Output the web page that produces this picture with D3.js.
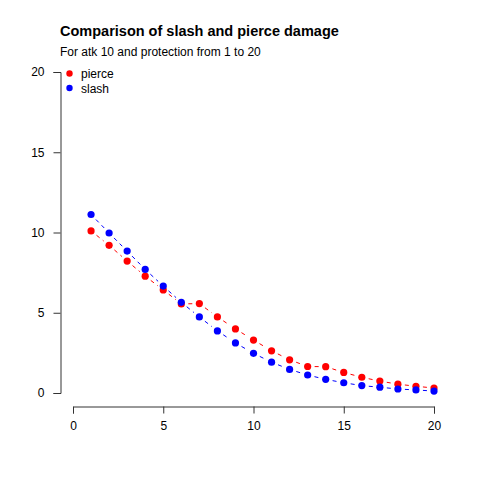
<!DOCTYPE html>
<html><head><meta charset="utf-8">
<script src="https://cdn.jsdelivr.net/npm/d3@7"></script>
<style>body{margin:0;background:#fff}text{font-family:"Liberation Sans",Arial,sans-serif}</style>
</head><body>
<svg id="c" width="480" height="480"></svg>
<script>
const protection = d3.range(1, 21);
const pierce = [10.1,9.2,8.22,7.28,6.42,5.55,5.57,4.74,3.99,3.3,2.63,2.07,1.65,1.64,1.28,0.98,0.74,0.55,0.42,0.31];
const slash = [11.12,9.97,8.84,7.7,6.66,5.65,4.74,3.87,3.12,2.47,1.92,1.47,1.12,0.85,0.64,0.46,0.36,0.25,0.19,0.12];
const xTicks = [0,5,10,15,20];
const yTicks = [0,5,10,15,20];
const seriesNames = ["pierce","slash"];
const seriesColors = ["#ff0000","#0000ff"];
const title = "Comparison of slash and pierce damage";
const subtitle = "For atk 10 and protection from 1 to 20";

const svg = d3.select("#c");
svg.append("rect").attr("width",480).attr("height",480).attr("fill","#fff");
const x = d3.scaleLinear().domain([0,20]).range([73,434]);
const y = d3.scaleLinear().domain([0,20]).range([393,72]);

const gx = svg.append("g").attr("transform","translate(0,406.5)")
  .call(d3.axisBottom(x).tickValues(xTicks).tickSizeOuter(0).tickSize(7).tickPadding(8));
const gy = svg.append("g").attr("transform","translate(60.5,0)")
  .call(d3.axisLeft(y).tickValues(yTicks).tickSizeOuter(0).tickSize(7).tickPadding(9));
[gx,gy].forEach(g=>{
  g.selectAll("path,line").attr("stroke","#333");
  g.selectAll("text").attr("font-size",12).attr("fill","#000").attr("font-family",'"Liberation Sans",Arial,sans-serif');
});

function drawSeries(vals,color){
  const pts = protection.map((p,i)=>[x(p),y(vals[i])]);
  const gap = 7;
  const g = svg.append("g");
  for(let i=0;i<pts.length-1;i++){
    const [x0,y0]=pts[i],[x1,y1]=pts[i+1];
    const dx=x1-x0, dy=y1-y0, L=Math.hypot(dx,dy);
    if(L<=2*gap) continue;
    const ux=dx/L, uy=dy/L;
    g.append("line").attr("x1",x0+ux*gap).attr("y1",y0+uy*gap)
      .attr("x2",x1-ux*gap).attr("y2",y1-uy*gap)
      .attr("stroke",color).attr("stroke-width",1).attr("stroke-dasharray","4,4");
  }
  g.selectAll("circle").data(pts).join("circle")
    .attr("cx",d=>d[0]).attr("cy",d=>d[1]).attr("r",3.6).attr("fill",color);
}
drawSeries(pierce,seriesColors[0]);
drawSeries(slash,seriesColors[1]);

svg.append("text").attr("x",60).attr("y",36).attr("font-size",14.5).attr("font-weight","bold").text(title);
svg.append("text").attr("x",60).attr("y",56).attr("font-size",12).text(subtitle);

const leg = svg.append("g");
seriesNames.forEach((n,i)=>{
  leg.append("circle").attr("cx",69.5).attr("cy",73.5+i*14.5).attr("r",3.2).attr("fill",seriesColors[i]);
  leg.append("text").attr("x",81).attr("y",78+i*14.5).attr("font-size",12).text(n);
});
</script>
</body></html>
